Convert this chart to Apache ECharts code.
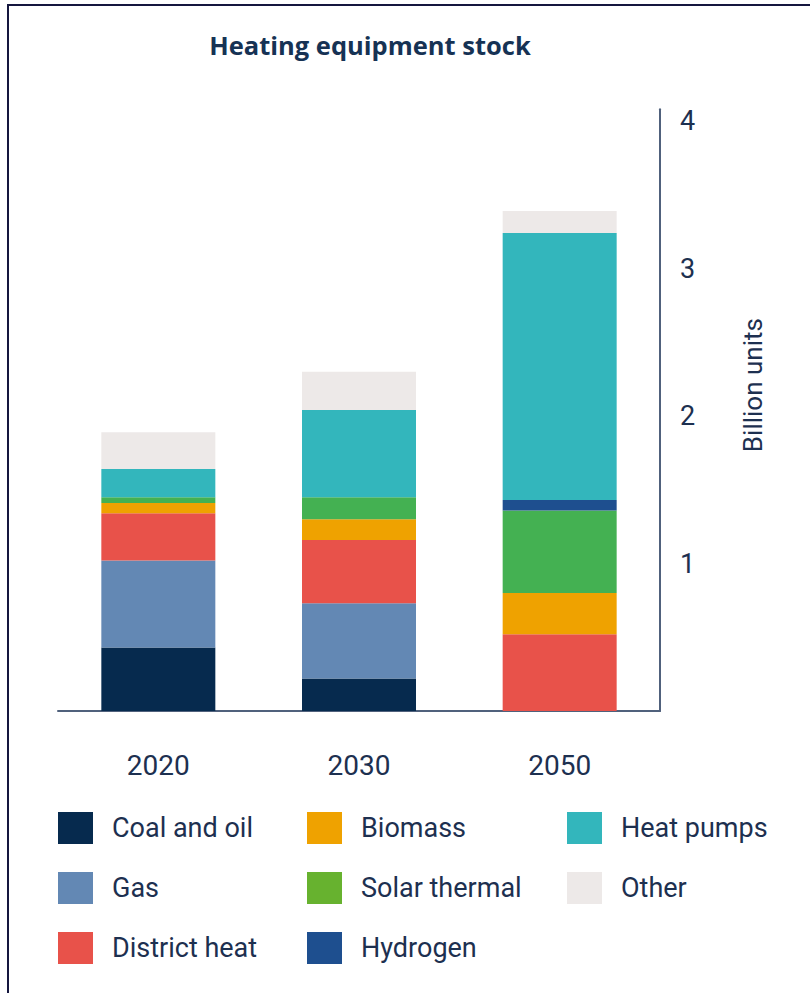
<!DOCTYPE html>
<html>
<head>
<meta charset="utf-8">
<script src="https://cdn.jsdelivr.net/npm/echarts@6/dist/echarts.min.js"></script>
<style>
html,body{margin:0;padding:0;background:#fff;}
#frame{position:absolute;left:7px;top:4px;width:820px;height:1000px;border-top:2px solid #15173f;border-left:2px solid #15173f;box-sizing:border-box;}
#chart{position:absolute;left:0;top:0;width:810px;height:993px;}
</style>
</head>
<body>
<div id="frame"></div>
<div id="chart"></div>
<script>
const categories = ['2020', '2030', '2050'];
const coalAndOil   = [0.43, 0.22, 0];
const gas          = [0.59, 0.51, 0];
const districtHeat = [0.32, 0.43, 0.52];
const biomass      = [0.07, 0.14, 0.28];
const solarThermal = [0.04, 0.15, 0.56];
const hydrogen     = [0, 0, 0.07];
const heatPumps    = [0.19, 0.59, 1.81];
const other        = [0.25, 0.26, 0.15];
const yTicks = [0, 1, 2, 3, 4];

const seriesDefs = [
  {name: 'Coal and oil', data: coalAndOil, color: '#062a4e'},
  {name: 'Gas', data: gas, color: '#6388b4'},
  {name: 'District heat', data: districtHeat, color: '#e8524a'},
  {name: 'Biomass', data: biomass, color: '#efa200'},
  {name: 'Solar thermal', data: solarThermal, color: '#44b152'},
  {name: 'Hydrogen', data: hydrogen, color: '#1e4f8f'},
  {name: 'Heat pumps', data: heatPumps, color: '#33b6bc'},
  {name: 'Other', data: other, color: '#ede9e8'}
];
const legendColors = {'Solar thermal': '#67b22f'};

const txt = '#1d3050';
const font = 'Roboto';

function legendBlock(names, left) {
  return {
    orient: 'vertical', left: left, top: 812, padding: 0,
    itemWidth: 35, itemHeight: 32, itemGap: 28,
    icon: 'rect', selectedMode: false,
    textStyle: {fontFamily: font, fontSize: 27, color: txt, padding: [0, 0, 0, 14]},
    data: names.map(n => ({name: n, itemStyle: legendColors[n] ? {color: legendColors[n]} : undefined}))
  };
}

const chart = echarts.init(document.getElementById('chart'), null, {renderer: 'svg'});
chart.setOption({
  animation: false,
  title: {
    text: 'Heating equipment stock', left: 370, top: 32, textAlign: 'center', padding: 0,
    textStyle: {fontFamily: 'Open Sans', fontSize: 25.5, fontWeight: 'bold', color: '#163254'}
  },
  legend: [
    legendBlock(['Coal and oil', 'Gas', 'District heat'], 58),
    legendBlock(['Biomass', 'Solar thermal', 'Hydrogen'], 307),
    legendBlock(['Heat pumps', 'Other'], 567)
  ],
  grid: {left: 58, right: 150, top: 109.2, bottom: 282},
  xAxis: {
    type: 'category', data: categories,
    axisLine: {lineStyle: {color: '#50617c', width: 2}},
    axisTick: {show: false},
    axisLabel: {fontFamily: font, fontSize: 28, color: txt, margin: 40}
  },
  yAxis: {
    type: 'value', position: 'right', min: 0, max: 4.08, interval: 1,
    splitLine: {show: false},
    axisLine: {show: true, lineStyle: {color: '#50617c', width: 2}},
    axisTick: {show: false},
    axisLabel: {fontFamily: font, fontSize: 27, color: txt, margin: 20, showMinLabel: false, showMaxLabel: false,
      formatter: v => yTicks.includes(v) ? String(v) : ''},
    name: 'Billion units', nameLocation: 'middle', nameRotate: 90, nameGap: 80,
    nameTextStyle: {fontFamily: font, fontSize: 26, color: txt, padding: [0, 0, 0, 50]}
  },
  series: seriesDefs.map(s => ({
    name: s.name, type: 'bar', stack: 'total', data: s.data, barWidth: 114,
    itemStyle: {color: s.color}
  }))
});
</script>
</body>
</html>
